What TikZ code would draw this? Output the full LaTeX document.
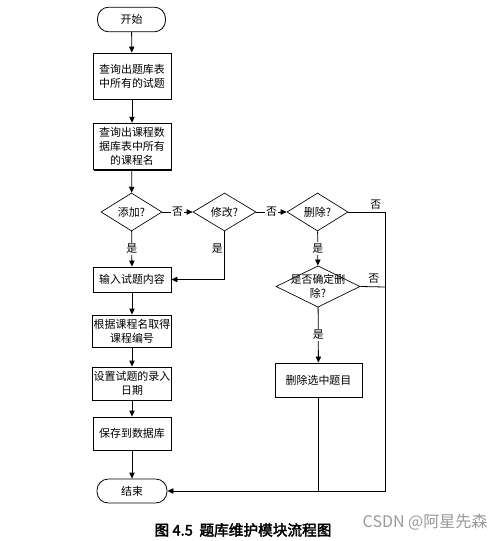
\documentclass[tikz,border=0pt]{standalone}
\usepackage{fontspec}
\setmainfont{Noto Sans CJK SC}
\newfontfamily\capfont[FakeBold=2.5]{Noto Sans CJK SC}
\newfontfamily\wmfont{Noto Sans CJK SC}
\usetikzlibrary{shapes.geometric,arrows.meta,shadows}
\tikzset{
  every node/.style={font=\fontsize{8.2}{10.5}\selectfont},
  proc/.style={draw, line width=0.6pt, fill=white, align=center, inner sep=1pt,
    minimum width=58.5pt,
    drop shadow={shadow xshift=0.6pt, shadow yshift=-0.6pt, fill=black, opacity=1}},
  term/.style={draw, line width=0.6pt, rounded corners=8.5pt, minimum width=51pt, minimum height=18.5pt, inner sep=0pt},
  dec/.style={draw, line width=0.5pt, diamond, inner sep=0pt, shape aspect=1.6},
  lbl/.style={fill=white, inner sep=1pt},
  flow/.style={line width=0.6pt, -{Triangle[length=4.5pt,width=4pt]}},
  plainline/.style={line width=0.6pt}
}
\begin{document}
\begin{tikzpicture}[x=0.75pt,y=-0.75pt]
\useasboundingbox (0,0) rectangle (499,541);
% nodes
\node[term] (start) at (131.5,19.5) {开始};
\node[proc, minimum height=34.5pt] (b1) at (132,76) {查询出题库表\\中所有的试题};
\node[proc, minimum height=35pt] (b2) at (132,146.5) {查询出课程数\\据库表中所有\\的课程名};
\node[dec, minimum width=45.75pt, minimum height=28.5pt] (d1) at (131.5,212) {};
\node (t1) at (d1) {添加?};
\node[dec, minimum width=47.25pt, minimum height=28.5pt] (d2) at (224.5,212) {};
\node (t2) at (d2) {修改?};
\node[dec, minimum width=45.75pt, minimum height=28.5pt] (d3) at (317.5,212) {};
\node (t3) at (d3) {删除?};
\node[proc, minimum height=18.75pt] (b3) at (132,279.5) {输入试题内容};
\node[dec, minimum width=63pt, minimum height=31pt] (d4) at (318,286.5) {};
\node[align=center] (t4) at (d4) {是否确定删\\除?};
\node[proc, minimum height=24pt] (b4) at (132,331) {根据课程名取得\\课程编号};
\node[proc, minimum height=24.75pt] (b5) at (132,383.5) {设置试题的录入\\日期};
\node[proc, minimum height=24.75pt] (b6) at (132,433.5) {保存到数据库};
\node[proc, minimum width=65.25pt, minimum height=25.5pt] (b7) at (318.5,380) {删除选中题目};
\node[term, minimum width=52.5pt, minimum height=18pt] (end) at (132,491) {结束};
\coordinate (r1) at (385,212);
\coordinate (r2) at (385,491);
\coordinate (r3) at (385,287);
\coordinate (m1) at (224.5,279.5);
\coordinate (m2) at (318.5,491);
% connectors
\draw[flow] (start) -- (b1);
\draw[flow] (b1) -- (b2);
\draw[flow] (b2) -- (d1);
\draw[flow] (d1) -- node[lbl] {是} (b3);
\draw[flow] (d1) -- node[lbl] {否} (d2);
\draw[flow] (d2) -- node[lbl] {否} (d3);
\draw[flow] (d2.south) -- node[pos=0.35, left, inner sep=1pt] {是} (m1) -- (b3);
\draw[flow] (d3) -- node[lbl] {是} (d4);
\draw[flow] (d3.east) -- node[pos=0.75, above, inner sep=2pt] {否} (r1) -- (r2) -- (end);
\draw[plainline] (d4.east) -- node[pos=0.55, above, inner sep=2pt] {否} (r3);
\draw[flow] (d4) -- node[lbl] {是} (b7);
\draw[plainline] (b7) -- (m2);
\draw[flow] (b3) -- (b4);
\draw[flow] (b4) -- (b5);
\draw[flow] (b5) -- (b6);
\draw[flow] (b6) -- (end);
% caption
\node[font=\capfont\fontsize{11}{12}\selectfont] (cap) at (243,530) {图 4.5\ \ 题库维护模块流程图};
\node[font=\wmfont\fontsize{12}{14}\selectfont, text=black!40, anchor=west] (wm) at (358,522) {CSDN @阿星先森};
\end{tikzpicture}
\end{document}
